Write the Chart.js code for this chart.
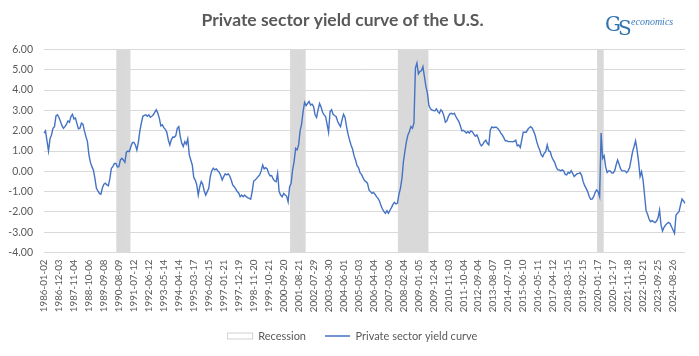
<!DOCTYPE html>
<html><head><meta charset="utf-8">
<script src="https://cdn.jsdelivr.net/npm/chart.js@4.4.1/dist/chart.umd.min.js"></script>
<style>html,body{margin:0;padding:0;background:#fff;}</style>
</head><body>
<canvas id="c" width="699" height="356"></canvas>
<script>
// ---- data ----
const tickLabels = ['1986-01-02','1986-12-03','1987-11-04','1988-10-06','1989-09-08','1990-08-09','1991-07-12','1992-06-12','1993-05-14','1994-04-14','1995-03-17','1996-02-15','1997-01-21','1997-12-19','1998-11-20','1999-10-21','2000-09-20','2001-08-21','2002-07-29','2003-06-30','2004-06-01','2005-05-03','2006-04-04','2007-03-06','2008-02-04','2009-01-05','2009-12-04','2010-11-03','2011-10-04','2012-09-04','2013-08-07','2014-07-10','2015-06-10','2016-05-11','2017-04-12','2018-03-15','2019-02-15','2020-01-17','2020-12-17','2021-11-18','2022-10-21','2023-09-25','2024-08-26'];
const pointsPerLabel = 10;
const yieldCurve = [
1.88,1.99,1.50,1.00,1.60,1.79,2.12,2.20,2.73,2.78,
2.65,2.45,2.25,2.12,2.20,2.32,2.48,2.42,2.70,2.81,
2.58,2.62,2.35,2.09,2.12,2.37,2.32,1.99,1.71,1.46,
0.81,0.44,0.23,0.05,-0.35,-0.84,-0.97,-1.09,-1.13,-0.81,
-0.64,-0.59,-0.67,-0.71,-0.35,0.15,0.23,0.39,0.39,0.21,
0.23,0.56,0.64,0.56,0.44,0.94,1.00,0.97,1.22,1.41,
1.43,1.30,1.05,1.43,1.99,2.37,2.71,2.75,2.78,2.71,
2.78,2.66,2.71,2.78,2.91,3.03,2.86,2.62,2.24,2.29,
2.15,2.07,1.92,1.55,1.30,1.55,1.69,1.68,1.76,2.12,
2.20,1.71,1.38,1.22,1.46,1.33,1.60,0.81,0.56,0.31,
-0.31,-0.43,-0.67,-1.17,-0.76,-0.51,-0.64,-0.97,-1.17,-1.00,
-0.84,-0.26,0.02,0.15,0.07,0.12,0.03,-0.05,-0.21,-0.43,
-0.26,-0.12,-0.18,-0.12,-0.23,-0.43,-0.67,-0.76,-0.87,-1.00,
-1.07,-1.25,-1.17,-1.25,-1.17,-1.25,-1.30,-1.33,-1.37,-1.00,
-0.48,-0.43,-0.35,-0.26,-0.18,0.02,0.31,0.12,0.18,0.12,
-0.10,-0.23,-0.21,-0.38,-0.48,-0.51,-0.10,-1.00,-1.17,-1.25,
-1.09,-1.17,-1.22,-1.50,-0.76,-0.59,0.07,0.48,1.13,1.05,
1.30,1.99,2.32,2.94,3.40,3.24,3.34,3.44,3.27,3.31,
3.19,2.78,2.65,3.03,3.34,3.17,2.91,2.78,2.70,2.32,
1.92,2.94,3.03,2.81,2.75,2.70,2.48,2.32,2.20,2.53,
2.81,2.65,2.20,1.83,1.55,1.30,1.10,0.77,0.56,0.28,
0.18,-0.07,-0.15,-0.31,-0.46,-0.51,-0.59,-0.92,-1.00,-1.09,
-1.04,-1.13,-1.25,-1.33,-1.46,-1.69,-1.86,-1.99,-2.07,-1.94,
-2.07,-1.92,-1.79,-1.63,-1.53,-1.61,-1.58,-1.13,-0.84,-0.35,
0.48,1.00,1.46,1.79,1.96,2.20,2.12,2.37,5.08,5.33,
4.80,4.92,4.95,5.16,4.67,4.18,3.85,3.24,3.08,3.03,
2.99,2.98,3.08,2.94,2.86,3.03,2.94,2.73,2.42,2.48,
2.70,2.83,2.86,2.81,2.86,2.70,2.57,2.45,2.24,1.99,
2.02,1.96,1.89,1.96,1.88,1.99,1.95,1.83,1.73,1.79,
1.63,1.38,1.25,1.33,1.46,1.53,1.38,1.30,2.04,2.19,
2.15,2.17,2.17,2.11,2.02,1.88,1.79,1.66,1.50,1.51,
1.46,1.46,1.46,1.45,1.48,1.53,1.25,1.30,1.17,1.55,
1.92,1.92,1.92,2.06,2.15,2.20,2.12,1.96,1.76,1.46,
1.22,1.05,0.81,0.72,0.89,0.97,1.30,1.00,0.97,0.72,
0.56,0.44,0.21,0.07,0.07,0.02,0.07,0.02,-0.15,-0.18,
-0.05,-0.10,0.03,-0.10,-0.26,-0.18,-0.12,-0.10,-0.07,-0.21,
-0.51,-0.71,-0.84,-1.00,-1.23,-1.38,-1.37,-1.25,-1.05,-0.92,
-1.00,-1.25,1.88,0.64,0.77,0.23,-0.05,0.02,0.02,-0.07,
-0.08,0.02,0.31,0.56,0.35,0.12,0.02,0.02,0.02,-0.07,
0.02,0.18,0.56,0.97,1.22,1.50,1.05,0.48,-0.26,-0.02,
-0.43,-1.17,-1.94,-2.12,-2.35,-2.48,-2.43,-2.48,-2.53,-2.45,
-2.29,-1.91,-2.65,-2.94,-2.76,-2.65,-2.57,-2.52,-2.57,-2.73,
-2.89,-3.06,-2.15,-2.06,-1.99,-1.66,-1.37,-1.46,-1.58
];
const recessionRanges = [[49,57],[165,174],[237,256],[370,373]];
const yMin = -4, yMax = 6, yStep = 1;
const seriesNames = ['Recession','Private sector yield curve'];
const titleText = 'Private sector yield curve of the U.S.';

// ---- derived tables ----
const categories = yieldCurve.map((_, i) => (i % pointsPerLabel === 0 && tickLabels[i / pointsPerLabel]) ? tickLabels[i / pointsPerLabel] : '');
const recessionBars = yieldCurve.map((_, i) =>
  recessionRanges.some(r => i >= r[0] && i <= r[1]) ? [yMin, yMax] : null);

const FONT = 'Lato';
const GREY = '#595959';

const logoPlugin = {
  id: 'logo',
  afterDraw(chart) {
    const ctx = chart.ctx;
    ctx.save();
    ctx.fillStyle = '#2e72b0';
    ctx.textBaseline = 'alphabetic';
    ctx.font = '20px "DejaVu Serif"';
    ctx.fillText('G', 605, 31);
    ctx.fillText('S', 618, 35);
    ctx.font = 'italic 10px "Liberation Serif"';
    ctx.fillStyle = '#3a7bbf';
    ctx.fillText('economics', 631, 25);
    ctx.restore();
  }
};

// small placement adjustment of the legend row (Excel centres it slightly differently)
const legendPlace = {
  id: 'legendPlace',
  afterLayout(chart) {
    const l = chart.legend;
    if (!l) return;
    l.left += 10; l.right += 10;
    l.top -= 4.5; l.bottom -= 4.5;
  }
};

new Chart(document.getElementById('c'), {
  type: 'line',
  data: {
    labels: categories,
    datasets: [
      { type: 'bar', label: seriesNames[0], data: recessionBars, backgroundColor: '#d9d9d9',
        borderWidth: 0, barPercentage: 1, categoryPercentage: 1, grouped: false, order: 2 },
      { type: 'line', label: seriesNames[1], data: yieldCurve, borderColor: '#4472c4',
        borderWidth: 1.4, pointRadius: 0, tension: 0, order: 1 }
    ]
  },
  options: {
    responsive: false,
    devicePixelRatio: 1,
    animation: false,
    layout: { padding: { left: 0, right: 14, top: 0, bottom: 0 } },
    plugins: {
      tooltip: { enabled: false },
      title: { display: true, text: titleText, color: GREY,
        font: { family: FONT, size: 17.5, weight: 'bold' }, padding: { top: 10, bottom: 18.5 } },
      legend: {
        position: 'bottom',
        labels: {
          usePointStyle: true, pointStyleWidth: 25, boxHeight: 6, padding: 19,
          color: GREY, font: { family: FONT, size: 11 },
          generateLabels() {
            return [
              { text: seriesNames[0], pointStyle: 'rect', fillStyle: '#ffffff', strokeStyle: '#d0d0d0',
                lineWidth: 1, datasetIndex: 0, hidden: false, fontColor: GREY },
              { text: seriesNames[1], pointStyle: 'line', fillStyle: '#4472c4', strokeStyle: '#4472c4',
                lineWidth: 1.5, datasetIndex: 1, hidden: false, fontColor: GREY }
            ];
          }
        }
      }
    },
    scales: {
      x: {
        type: 'category', offset: false,
        grid: { display: false, drawTicks: false, offset: false },
        border: { display: false },
        ticks: { autoSkip: false, minRotation: 90, maxRotation: 90, padding: 7, color: GREY,
          font: { family: FONT, size: 9.8 },
          callback(v) { const l = this.getLabelForValue(v); return l === '' ? null : l; } },
        afterFit(s) { s.height = 63.5; }
      },
      y: {
        min: yMin, max: yMax,
        grid: { color: '#d9d9d9', drawTicks: false, lineWidth: 1 },
        border: { display: false },
        ticks: { stepSize: yStep, padding: 11, color: GREY, font: { family: FONT, size: 10.5 },
          callback: v => Number(v).toFixed(2) },
        afterFit(s) { s.width = 44; }
      }
    }
  },
  plugins: [logoPlugin, legendPlace]
});
</script>
</body></html>
